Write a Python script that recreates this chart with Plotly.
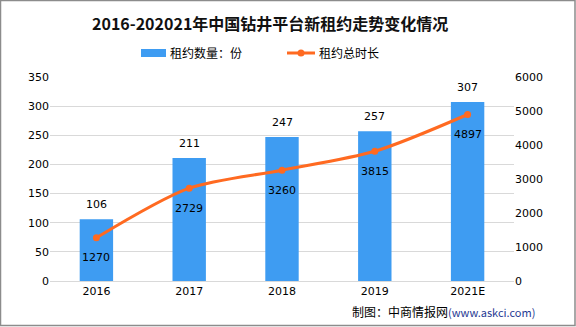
import plotly.graph_objects as go

years = ["2016", "2017", "2018", "2019", "2021E"]
contracts = [106, 211, 247, 257, 307]          # 租约数量：份
total_days = [1270, 2729, 3260, 3815, 4897]    # 租约总时长
legend_names = ["租约数量：份", "租约总时长"]

xpos = list(range(len(years)))

bar_color = "#3E9CF2"
line_color = "#FF6A21"
num_font = dict(family="DejaVu Sans, Liberation Sans, sans-serif", size=11, color="#000000")
cjk = "Noto Sans CJK SC, sans-serif"

# plot area in pixels: x 50..514, y 77..281
PL, PW, PB, PH = 50, 464, 281, 204


def px(x):
    return (x - PL) / PW


def py(y):
    return (PB - y) / PH


fig = go.Figure()

fig.add_trace(go.Bar(
    x=xpos, y=contracts, name=legend_names[0],
    marker=dict(color=bar_color, line=dict(width=0)),
    width=0.36,
    yaxis="y",
))

fig.add_trace(go.Scatter(
    x=xpos, y=total_days, name=legend_names[1],
    mode="lines+markers",
    line=dict(color=line_color, width=3, shape="spline", smoothing=0.8),
    marker=dict(color=line_color, size=7),
    yaxis="y2",
))

annotations = []
for xp, v in zip(xpos, contracts):
    annotations.append(dict(x=xp, y=v, xref="x", yref="y", text=str(v),
                            showarrow=False, yshift=15, font=num_font))
for xp, v in zip(xpos, total_days):
    annotations.append(dict(x=xp, y=v, xref="x", yref="y2", text=str(v),
                            showarrow=False, yshift=-20, font=num_font))

annotations.append(dict(
    x=px(270), y=py(23), xref="paper", yref="paper", xanchor="center", yanchor="middle",
    text="<b>2016-202021年中国钻井平台新租约走势变化情况</b>",
    showarrow=False, font=dict(family=cjk, size=16, color="#111111"),
))
annotations.append(dict(
    x=px(537), y=py(311), xref="paper", yref="paper", xanchor="right", yanchor="middle",
    text="制图：中商情报网<span style='font-size:11px;color:#1F3A93'>(www.askci.com)</span>",
    showarrow=False, font=dict(family=cjk, size=12, color="#000000"),
))

# legend
annotations.append(dict(
    x=px(168), y=py(53), xref="paper", yref="paper", xanchor="left", yanchor="middle",
    text=legend_names[0], showarrow=False, font=dict(family=cjk, size=12, color="#000000"),
))
annotations.append(dict(
    x=px(317), y=py(53), xref="paper", yref="paper", xanchor="left", yanchor="middle",
    text=legend_names[1], showarrow=False, font=dict(family=cjk, size=12, color="#000000"),
))

shapes = [
    dict(type="rect", xref="paper", yref="paper",
         x0=px(0.5), x1=px(575), y0=py(325.5), y1=py(0.5),
         line=dict(color="#8C8C8C", width=1.5), fillcolor="rgba(0,0,0,0)"),
    dict(type="rect", xref="paper", yref="paper",
         x0=px(141), x1=px(166), y0=py(57), y1=py(49),
         line=dict(width=0), fillcolor=bar_color),
    dict(type="line", xref="paper", yref="paper",
         x0=px(287), x1=px(315), y0=py(53), y1=py(53),
         line=dict(color=line_color, width=3)),
    dict(type="circle", xref="paper", yref="paper",
         x0=px(297.5), x1=px(304.5), y0=py(56.5), y1=py(49.5),
         line=dict(width=0), fillcolor=line_color),
]

fig.update_layout(
    width=576, height=327,
    margin=dict(l=PL, r=576 - PL - PW, t=PB - PH, b=327 - PB),
    paper_bgcolor="white", plot_bgcolor="white",
    showlegend=False,
    xaxis=dict(range=[-0.5, 4.5], tickvals=xpos, ticktext=years,
               showgrid=False, showline=True, linecolor="#D9D9D9",
               linewidth=1, ticks="", tickfont=num_font, zeroline=False),
    yaxis=dict(range=[0, 350], dtick=50, showgrid=True, gridcolor="#D9D9D9",
               zeroline=False, showline=False, ticks="", tickfont=num_font),
    yaxis2=dict(range=[0, 6000], dtick=1000, overlaying="y", side="right",
                showgrid=False, zeroline=False, showline=False, ticks="",
                tickfont=num_font),
    annotations=annotations,
    shapes=shapes,
)

fig.write_html("out.html")
